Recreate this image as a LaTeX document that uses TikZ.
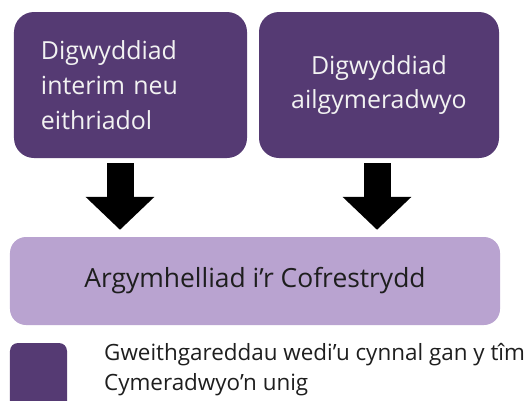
\documentclass[tikz,border=0pt]{standalone}
\usepackage{fontspec}
\setmainfont{Open Sans}
\usetikzlibrary{arrows.meta}
\definecolor{darkpurple}{RGB}{85,58,115}
\definecolor{lightpurple}{RGB}{185,163,208}
\definecolor{boxtext}{RGB}{242,242,242}
\definecolor{darktext}{RGB}{30,30,30}
\begin{document}
\begin{tikzpicture}[x=1bp,y=-1bp,
  darkbox/.style={fill=darkpurple, draw=none, rounded corners=20bp, text=boxtext,
    font=\fontsize{25}{35}\selectfont, minimum height=146bp},
  lightbox/.style={fill=lightpurple, draw=none, rounded corners=16bp, text=darktext,
    font=\fontsize{26.5}{30}\selectfont, minimum width=490bp, minimum height=88bp},
  bigarrow/.style={draw=black, line width=27bp,
    -{Triangle[length=33bp 0 0, width=67bp 0 0]}},
  legendbox/.style={fill=darkpurple, draw=none, rounded corners=8bp, minimum width=57bp, minimum height=70bp},
  legendtext/.style={text=darktext, font=\fontsize{22.5}{30}\selectfont, align=left, inner sep=0pt}
]
\useasboundingbox (0,0) rectangle (530,400);
\clip (0,0) rectangle (530,400);
\node[darkbox, align=left, text width=179bp, inner xsep=27bp] (b1) at (130.5,85)
  {Digwyddiad\\interim neu\\eithriadol};
\node[darkbox, align=center, minimum width=240bp] (b2) at (379,85)
  {Digwyddiad\\ailgymeradwyo};
\node[lightbox] (b3) at (255,281) {Argymhelliad i’r Cofrestrydd};
\coordinate (x1) at (120,0);
\coordinate (x2) at (377,0);
\draw[bigarrow, shorten <=5bp, shorten >=7bp] (x1 |- b1.south) -- (x1 |- b3.north);
\draw[bigarrow, shorten <=5bp, shorten >=7bp] (x2 |- b2.south) -- (x2 |- b3.north);
\node[legendbox] (lg) at (38.5,378) {};
\node[legendtext, anchor=north west] (lt) at (104,343) {Gweithgareddau wedi’u cynnal gan y tîm\\Cymeradwyo’n unig};
\end{tikzpicture}
\end{document}
